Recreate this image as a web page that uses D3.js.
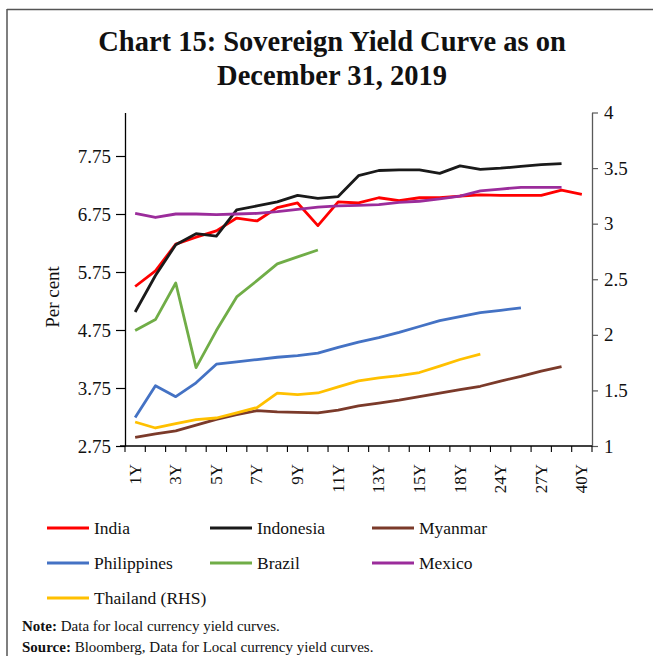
<!DOCTYPE html>
<html>
<head>
<meta charset="utf-8">
<script src="https://cdn.jsdelivr.net/npm/d3@7"></script>
<style>
  html, body { margin: 0; padding: 0; background: #fff; }
  svg { display: block; }
  text { font-family: "Liberation Serif", "DejaVu Serif", serif; fill: #111; }
</style>
</head>
<body>
<script>
const categories = ["1Y","2Y","3Y","4Y","5Y","6Y","7Y","8Y","9Y","10Y","11Y","12Y","13Y","14Y","15Y","16Y","18Y","20Y","24Y","25Y","27Y","30Y","40Y"];
const shownLabels = ["1Y","3Y","5Y","7Y","9Y","11Y","13Y","15Y","18Y","24Y","27Y","40Y"];
const leftTicks = [2.75, 3.75, 4.75, 5.75, 6.75, 7.75];
const rightTicks = [1, 1.5, 2, 2.5, 3, 3.5, 4];

const india = [5.50,5.77,6.23,6.35,6.46,6.68,6.63,6.86,6.94,6.55,6.96,6.94,7.03,6.98,7.03,7.03,7.06,7.08,7.07,7.07,7.07,7.16,7.09];
const indonesia = [5.06,5.69,6.22,6.41,6.37,6.82,6.89,6.96,7.07,7.02,7.05,7.41,7.50,7.51,7.51,7.45,7.58,7.52,7.54,7.57,7.60,7.62];
const myanmar = [2.90,2.96,3.01,3.11,3.21,3.29,3.36,3.34,3.33,3.32,3.37,3.44,3.49,3.54,3.60,3.66,3.72,3.78,3.87,3.95,4.04,4.12];
const philippines = [3.24,3.79,3.60,3.84,4.16,4.20,4.24,4.28,4.31,4.35,4.45,4.54,4.62,4.71,4.81,4.91,4.98,5.05,5.09,5.13];
const brazil = [4.74,4.93,5.56,4.10,4.74,5.32,5.60,5.89,6.01,6.13];
const mexico = [6.76,6.69,6.75,6.75,6.74,6.75,6.76,6.79,6.83,6.87,6.89,6.90,6.91,6.95,6.97,7.01,7.06,7.15,7.18,7.21,7.21,7.21];
const thailandRHS = [1.216,1.162,1.202,1.238,1.252,1.297,1.346,1.475,1.463,1.477,1.532,1.586,1.613,1.634,1.661,1.718,1.778,1.826];

const seriesNames = ["India","Indonesia","Myanmar","Philippines","Brazil","Mexico","Thailand (RHS)"];
const seriesColors = ["#ff0000","#1a1a1a","#7b3a2a","#4472c4","#70ad47","#9b2c9b","#ffc000"];
const seriesData = [india, indonesia, myanmar, philippines, brazil, mexico, thailandRHS];
const seriesAxis = ["L","L","L","L","L","L","R"];

const W = 653, H = 656;
const svg = d3.select("body").append("svg").attr("width", W).attr("height", H);

// frame
svg.append("line").attr("x1", 7).attr("x2", W).attr("y1", 9.5).attr("y2", 9.5).attr("stroke", "#555").attr("stroke-width", 1.5);
svg.append("line").attr("x1", 7).attr("x2", 7).attr("y1", 9).attr("y2", H).attr("stroke", "#555").attr("stroke-width", 1.5);

// title
const title = svg.append("text").attr("text-anchor", "middle").attr("font-weight", "bold").attr("font-size", 28.5);
title.append("tspan").attr("x", 332).attr("y", 51).text("Chart 15: Sovereign Yield Curve as on");
title.append("tspan").attr("x", 332).attr("y", 85).text("December 31, 2019");

const pLeft = 125, pRight = 592, pTop = 112.5, pBottom = 446;
const x = d3.scaleBand().domain(categories).range([pLeft, pRight]);
const yL = d3.scaleLinear().domain([2.75, 8.5]).range([pBottom, pTop]);
const yR = d3.scaleLinear().domain([1, 4]).range([pBottom, pTop]);

// left axis
const gL = svg.append("g").attr("transform", `translate(${pLeft},0)`)
  .call(d3.axisLeft(yL).tickValues(leftTicks).tickFormat(d3.format(".2f")).tickSize(9).tickSizeOuter(0));
gL.select(".domain").attr("stroke", "#000").attr("stroke-width", 1.3);
gL.selectAll(".tick line").attr("stroke", "#000").attr("stroke-width", 1.2);
gL.selectAll(".tick text").attr("font-size", 19).attr("font-family", "Liberation Serif").attr("fill", "#111").attr("x", -14);

// right axis
const gR = svg.append("g").attr("transform", `translate(${pRight},0)`)
  .call(d3.axisRight(yR).tickValues(rightTicks).tickFormat(d => d3.format("")(d)).tickSize(6).tickSizeOuter(0));
gR.select(".domain").attr("stroke", "#595959").attr("stroke-width", 1.3);
gR.selectAll(".tick line").attr("stroke", "#595959").attr("stroke-width", 1.2);
gR.selectAll(".tick text").attr("font-size", 19).attr("font-family", "Liberation Serif").attr("fill", "#111").attr("x", 12);

// x axis
const gX = svg.append("g");
gX.append("line").attr("x1", pLeft - 5).attr("x2", pRight).attr("y1", pBottom).attr("y2", pBottom).attr("stroke", "#000").attr("stroke-width", 1.3);
const bounds = categories.map(c => x(c)).concat([x(categories[categories.length - 1]) + x.bandwidth()]);
gX.selectAll("line.tk").data(bounds).enter().append("line").attr("class", "tk")
  .attr("x1", d => d).attr("x2", d => d).attr("y1", pBottom).attr("y2", pBottom + 6)
  .attr("stroke", "#000").attr("stroke-width", 1.1);
gX.selectAll("text.xl").data(shownLabels).enter().append("text").attr("class", "xl")
  .attr("transform", d => `translate(${x(d) + x.bandwidth() / 2},${pBottom + 18}) rotate(-90)`)
  .attr("text-anchor", "end").attr("dominant-baseline", "central").attr("font-size", 17).text(d => d);

// y label
svg.append("text").attr("transform", "translate(52,297) rotate(-90)").attr("text-anchor", "middle")
  .attr("dominant-baseline", "central").attr("font-size", 19).text("Per cent");

// lines
seriesData.forEach((vals, i) => {
  const yy = seriesAxis[i] === "R" ? yR : yL;
  const line = d3.line().x((d, j) => x(categories[j]) + x.bandwidth() / 2).y(d => yy(d));
  svg.append("path").datum(vals).attr("d", line).attr("fill", "none")
    .attr("stroke", seriesColors[i]).attr("stroke-width", 2.8).attr("stroke-linejoin", "round");
});

// legend
const colX = [47, 210, 372];
const rowY = [528, 563, 598];
seriesNames.forEach((n, i) => {
  const cx = colX[i % 3], cy = rowY[Math.floor(i / 3)];
  svg.append("line").attr("x1", cx).attr("x2", cx + 42).attr("y1", cy).attr("y2", cy)
    .attr("stroke", seriesColors[i]).attr("stroke-width", 2.8);
  svg.append("text").attr("x", cx + 47).attr("y", cy).attr("dominant-baseline", "central")
    .attr("font-size", 17.5).text(n);
});

// notes
const note = svg.append("text").attr("x", 22).attr("y", 631).attr("font-size", 15);
note.append("tspan").attr("font-weight", "bold").text("Note:");
note.append("tspan").text(" Data for local currency yield curves.");
const src = svg.append("text").attr("x", 22).attr("y", 652).attr("font-size", 15);
src.append("tspan").attr("font-weight", "bold").text("Source:");
src.append("tspan").text(" Bloomberg, Data for Local currency yield curves.");
</script>
</body>
</html>
